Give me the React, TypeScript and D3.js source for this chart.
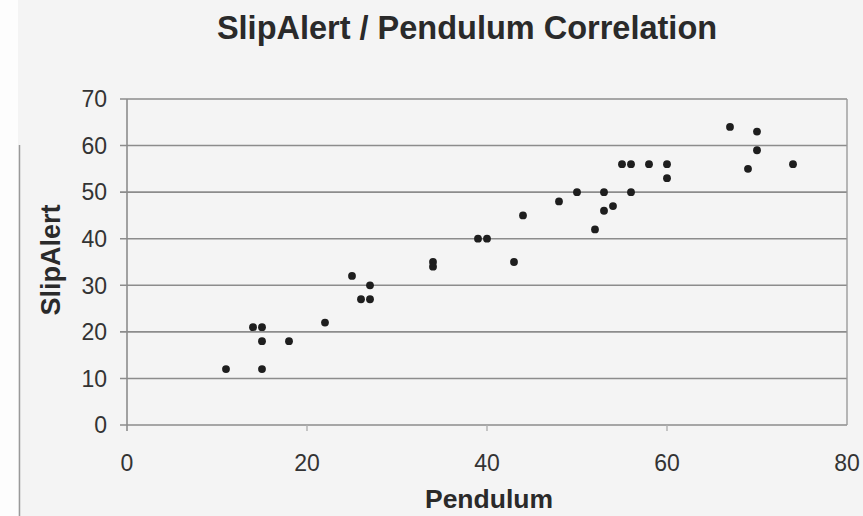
import React, { useEffect, useRef } from "react";
import * as d3 from "d3";

// Pendulum (x) vs SlipAlert (y) readings
const pendulum = [11, 14, 15, 15, 15, 18, 22, 25, 26, 27, 27, 34, 34, 39, 40, 43, 44, 48, 50, 52, 53, 53, 54, 55, 56, 56, 58, 60, 60, 67, 69, 70, 70, 74];
const slipAlert = [12, 21, 21, 18, 12, 18, 22, 32, 27, 30, 27, 35, 34, 40, 40, 35, 45, 48, 50, 42, 50, 46, 47, 56, 56, 50, 56, 56, 53, 64, 55, 63, 59, 56];
const xTicks = [0, 20, 40, 60, 80];
const yTicks = [0, 10, 20, 30, 40, 50, 60, 70];

const W = 863;
const H = 516;

const ScatterChart = () => {
  const ref = useRef<SVGSVGElement>(null);

  useEffect(() => {
    const svg = d3.select(ref.current);
    svg.selectAll("*").remove();

    const x = d3.scaleLinear().domain([0, 80]).range([127, 847]);
    const y = d3.scaleLinear().domain([0, 70]).range([425, 99]);

    svg.append("rect").attr("width", W).attr("height", H).attr("fill", "#f4f4f4");
    svg.append("rect").attr("width", 18).attr("height", H).attr("fill", "#fdfdfd");
    svg.append("line").attr("x1", 19.5).attr("x2", 19.5).attr("y1", 145).attr("y2", H)
      .attr("stroke", "#9a9a9a").attr("stroke-width", 1.5);

    // gridlines
    svg.append("g").selectAll("line").data(yTicks).join("line")
      .attr("x1", x(0) - 7).attr("x2", x(80))
      .attr("y1", (d) => y(d)).attr("y2", (d) => y(d))
      .attr("stroke", "#8c8c8c").attr("stroke-width", 1.6);

    // plot frame
    svg.append("line").attr("x1", x(0)).attr("x2", x(0)).attr("y1", y(70)).attr("y2", y(0) + 6)
      .attr("stroke", "#8c8c8c").attr("stroke-width", 1.6);
    svg.append("line").attr("x1", x(80)).attr("x2", x(80)).attr("y1", y(70)).attr("y2", y(0))
      .attr("stroke", "#9a9a9a").attr("stroke-width", 1.4);

    // x ticks
    svg.append("g").selectAll("line").data(xTicks.slice(1, 4)).join("line")
      .attr("x1", (d) => x(d)).attr("x2", (d) => x(d))
      .attr("y1", y(0)).attr("y2", y(0) + 6)
      .attr("stroke", "#b0b0b0").attr("stroke-width", 1.4);

    const font = "'Liberation Sans', Arial, sans-serif";

    svg.append("g").selectAll("text").data(yTicks).join("text")
      .attr("x", 107).attr("y", (d) => y(d)).attr("dy", "0.36em")
      .attr("text-anchor", "end").attr("font-family", font).attr("font-size", 23)
      .attr("fill", "#333").text((d) => d);

    svg.append("g").selectAll("text").data(xTicks).join("text")
      .attr("x", (d) => x(d)).attr("y", 463).attr("dy", "0.36em")
      .attr("text-anchor", "middle").attr("font-family", font).attr("font-size", 23)
      .attr("fill", "#333").text((d) => d);

    svg.append("text").attr("x", 467).attr("y", 39)
      .attr("text-anchor", "middle").attr("font-family", font).attr("font-size", 32.5)
      .attr("font-weight", "bold").attr("fill", "#2a2a2a")
      .text("SlipAlert / Pendulum Correlation");

    svg.append("text").attr("x", 489).attr("y", 508)
      .attr("text-anchor", "middle").attr("font-family", font).attr("font-size", 26.5)
      .attr("font-weight", "bold").attr("fill", "#2a2a2a").text("Pendulum");

    svg.append("text").attr("transform", "translate(60,260) rotate(-90)")
      .attr("text-anchor", "middle").attr("font-family", font).attr("font-size", 27)
      .attr("font-weight", "bold").attr("fill", "#2a2a2a").text("SlipAlert");

    svg.append("g").selectAll("circle").data(d3.range(pendulum.length)).join("circle")
      .attr("cx", (i) => x(pendulum[i])).attr("cy", (i) => y(slipAlert[i]))
      .attr("r", 3.9).attr("fill", "#1e1e1e");
  }, []);

  return <svg ref={ref} width={W} height={H} style={{ position: "absolute", left: 0, top: 0 }} />;
};

export default function App() {
  return <ScatterChart />;
}
